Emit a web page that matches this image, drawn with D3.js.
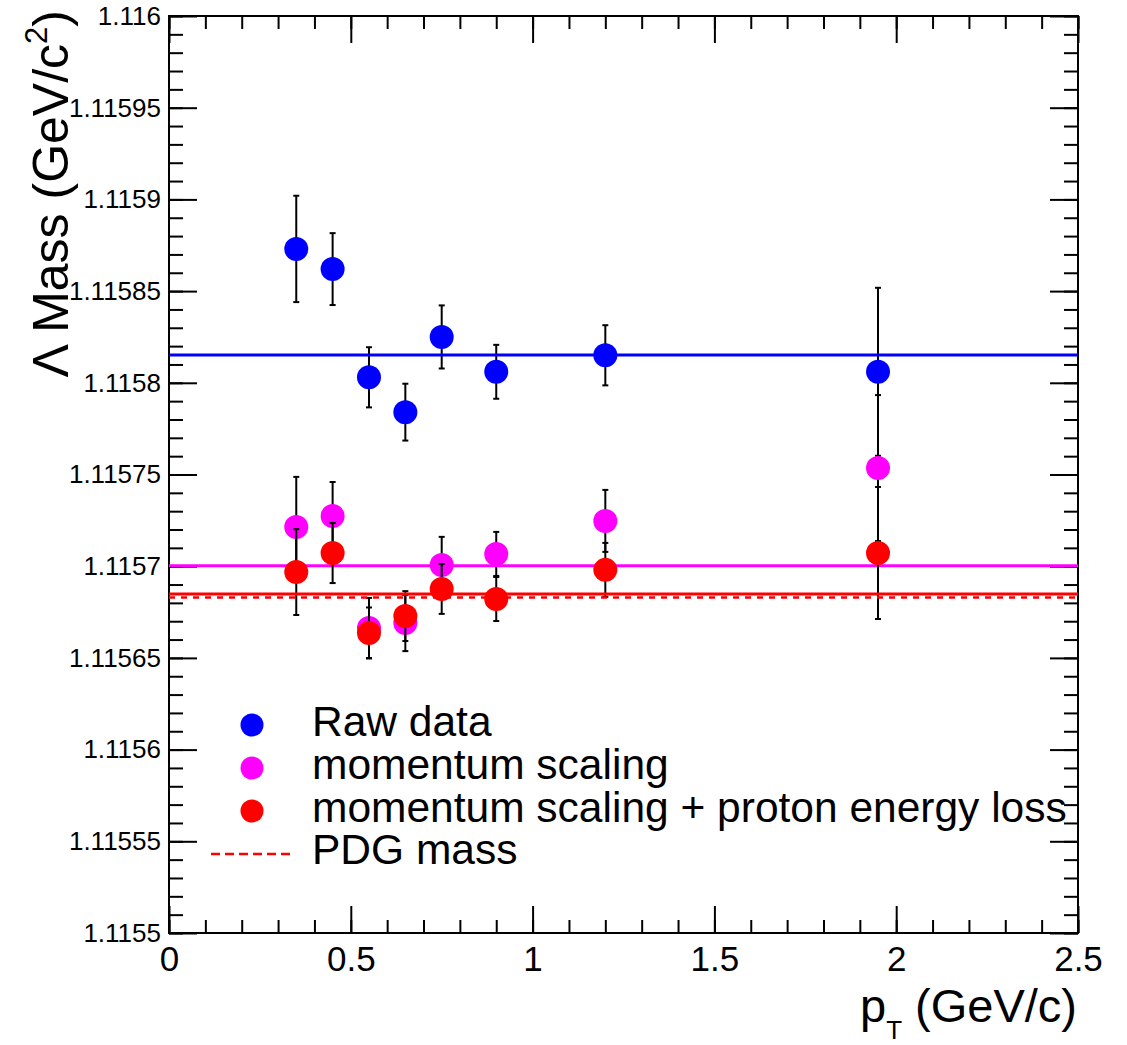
<!DOCTYPE html>
<html>
<head>
<meta charset="utf-8">
<script src="https://cdn.jsdelivr.net/npm/d3@7"></script>
<style>
  body { margin: 0; background: #fff; }
  svg { display: block; }
  text { font-family: "Liberation Sans", Arial, Helvetica, sans-serif; fill: #000; }
</style>
</head>
<body>
<svg id="chart" width="1127" height="1045"></svg>
<script>
// ---- data ----
const pt = [0.35, 0.45, 0.55, 0.65, 0.75, 0.9, 1.2, 1.95];
const rawMass = [1.115873, 1.115862, 1.115803, 1.115784, 1.115825, 1.115806, 1.115815, 1.115806];
const rawErr = [0.0000290, 0.0000196, 0.0000164, 0.0000155, 0.0000172, 0.0000147, 0.0000164, 0.0000458];
const scaledMass = [1.1157214, 1.1157274, 1.1156663, 1.115669, 1.1157007, 1.1157067, 1.1157247, 1.1157535];
const scaledErr = [0.0000273, 0.0000185, 0.0000164, 0.0000153, 0.0000153, 0.0000120, 0.0000169, 0.0000398];
const corrMass = [1.1156968, 1.1157072, 1.1156636, 1.1156728, 1.1156876, 1.1156821, 1.1156980, 1.1157072];
const corrErr = [0.0000234, 0.0000164, 0.0000139, 0.0000136, 0.0000136, 0.0000120, 0.0000147, 0.0000360];
const fitValues = [1.1158152, 1.1157003, 1.1156848];
const pdgMass = 1.115683;
const seriesNames = ["Raw data", "momentum scaling", "momentum scaling + proton energy loss"];
const seriesColors = ["#0000ff", "#ff00ff", "#ff0000"];
const xTicks = [0, 0.5, 1, 1.5, 2, 2.5];
const xTickLabels = ["0", "0.5", "1", "1.5", "2", "2.5"];
const yTicks = [1.1155, 1.11555, 1.1156, 1.11565, 1.1157, 1.11575, 1.1158, 1.11585, 1.1159, 1.11595, 1.116];
const yTickLabels = ["1.1155", "1.11555", "1.1156", "1.11565", "1.1157", "1.11575", "1.1158", "1.11585", "1.1159", "1.11595", "1.116"];

// ---- layout ----
const L = 169, R = 1078, T = 16, B = 933;
const svg = d3.select("#chart");
const x = d3.scaleLinear().domain([0, 2.5]).range([L, R]);
const y = d3.scaleLinear().domain([1.1155, 1.116]).range([B, T]);

const xMinor = d3.range(0, 26).map(i => i * 0.1);
const yMinor = d3.range(0, 51).map(i => 1.1155 + i * 0.00001);

function styleAxis(g) {
  g.select(".domain").remove();
  g.selectAll(".tick line").attr("stroke", "#000").attr("stroke-width", 2);
}

// bottom axis
svg.append("g").attr("transform", `translate(0,${B})`)
  .call(d3.axisBottom(x).tickValues(xMinor).tickSize(-13).tickFormat(""))
  .call(styleAxis);
const gxb = svg.append("g").attr("transform", `translate(0,${B})`)
  .call(d3.axisBottom(x).tickValues(xTicks).tickSize(-27).tickPadding(13)
    .tickFormat((d, i) => xTickLabels[i]))
  .call(styleAxis);
gxb.selectAll("text").attr("font-size", 35).attr("font-family", null);
// top axis
svg.append("g").attr("transform", `translate(0,${T})`)
  .call(d3.axisTop(x).tickValues(xMinor).tickSize(-13).tickFormat(""))
  .call(styleAxis);
svg.append("g").attr("transform", `translate(0,${T})`)
  .call(d3.axisTop(x).tickValues(xTicks).tickSize(-27).tickFormat(""))
  .call(styleAxis);
// left axis
svg.append("g").attr("transform", `translate(${L},0)`)
  .call(d3.axisLeft(y).tickValues(yMinor).tickSize(-14).tickFormat(""))
  .call(styleAxis);
const gyl = svg.append("g").attr("transform", `translate(${L},0)`)
  .call(d3.axisLeft(y).tickValues(yTicks).tickSize(-28).tickPadding(8)
    .tickFormat((d, i) => yTickLabels[i]))
  .call(styleAxis);
gyl.selectAll("text").attr("font-size", 26).attr("font-family", null);
// right axis
svg.append("g").attr("transform", `translate(${R},0)`)
  .call(d3.axisRight(y).tickValues(yMinor).tickSize(-14).tickFormat(""))
  .call(styleAxis);
svg.append("g").attr("transform", `translate(${R},0)`)
  .call(d3.axisRight(y).tickValues(yTicks).tickSize(-28).tickFormat(""))
  .call(styleAxis);

// frame
svg.append("rect").attr("x", L).attr("y", T).attr("width", R - L).attr("height", B - T)
  .attr("fill", "none").attr("stroke", "#000").attr("stroke-width", 2);

// ---- series ----
const series = [
  { vals: rawMass, errs: rawErr },
  { vals: scaledMass, errs: scaledErr },
  { vals: corrMass, errs: corrErr }
];
const plot = svg.append("g");
series.forEach((s, k) => {
  const pts = pt.map((p, i) => ({ p, v: s.vals[i], e: s.errs[i] }));
  const g = plot.append("g");
  // error bars
  const eb = g.selectAll("g.eb").data(pts).join("g").attr("class", "eb");
  eb.append("line")
    .attr("x1", d => x(d.p)).attr("x2", d => x(d.p))
    .attr("y1", d => y(d.v + d.e)).attr("y2", d => y(d.v - d.e))
    .attr("stroke", "#000").attr("stroke-width", 2);
  eb.append("line")
    .attr("x1", d => x(d.p) - 3).attr("x2", d => x(d.p) + 3)
    .attr("y1", d => y(d.v + d.e)).attr("y2", d => y(d.v + d.e))
    .attr("stroke", "#000").attr("stroke-width", 2);
  eb.append("line")
    .attr("x1", d => x(d.p) - 3).attr("x2", d => x(d.p) + 3)
    .attr("y1", d => y(d.v - d.e)).attr("y2", d => y(d.v - d.e))
    .attr("stroke", "#000").attr("stroke-width", 2);
  // markers
  g.selectAll("circle").data(pts).join("circle")
    .attr("cx", d => x(d.p)).attr("cy", d => y(d.v)).attr("r", 12)
    .attr("fill", seriesColors[k]);
  // fit line
  g.append("line")
    .attr("x1", x(0)).attr("x2", x(2.5))
    .attr("y1", y(fitValues[k])).attr("y2", y(fitValues[k]))
    .attr("stroke", seriesColors[k]).attr("stroke-width", 3);
});
// PDG line
plot.append("line")
  .attr("x1", x(0)).attr("x2", x(2.5))
  .attr("y1", y(pdgMass)).attr("y2", y(pdgMass))
  .attr("stroke", "#ff0000").attr("stroke-width", 2.5).attr("stroke-dasharray", "6,6");

// ---- legend ----
const leg = svg.append("g");
const legY = [725, 768, 811];
seriesNames.forEach((name, k) => {
  leg.append("circle").attr("cx", 252).attr("cy", legY[k]).attr("r", 11.5).attr("fill", seriesColors[k]);
  leg.append("text").attr("x", 312).attr("y", legY[k] + 11).attr("font-size", 42.5).text(name);
});
leg.append("line").attr("x1", 211).attr("x2", 291).attr("y1", 854).attr("y2", 854)
  .attr("stroke", "#ff0000").attr("stroke-width", 2.5).attr("stroke-dasharray", "9,5");
leg.append("text").attr("x", 312).attr("y", 864).attr("font-size", 42.5).text("PDG mass");

// ---- axis titles ----
const xt = svg.append("text").attr("x", 1077).attr("y", 1022).attr("text-anchor", "end").attr("font-size", 47);
xt.append("tspan").text("p");
xt.append("tspan").attr("font-size", 26).attr("dy", 17).text("T");
xt.append("tspan").attr("dy", -17).text(" (GeV/c)");

const yt = svg.append("text").attr("transform", "translate(68,10) rotate(-90)")
  .attr("text-anchor", "end").attr("font-size", 50);
yt.append("tspan").text("Λ Mass (GeV/c");
yt.append("tspan").attr("font-size", 31).attr("dy", -21).text("2");
yt.append("tspan").attr("dy", 21).text(")");
</script>
</body>
</html>
